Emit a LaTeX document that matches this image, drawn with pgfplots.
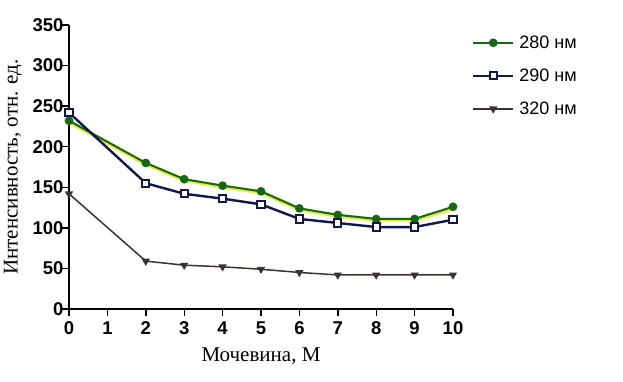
\documentclass[border=0pt]{standalone}
\usepackage{fontspec}
\setmainfont{Liberation Serif}
\setsansfont{Liberation Sans}
\usepackage{pgfplots}
\pgfplotsset{compat=1.18}
\definecolor{cgreen}{RGB}{20,105,20}
\definecolor{cyell}{RGB}{230,235,60}
\definecolor{cnavy}{RGB}{15,25,80}
\definecolor{cgray}{RGB}{60,50,45}
\begin{document}
\begin{tikzpicture}
\useasboundingbox (0,0) rectangle (623pt,381pt);
\begin{axis}[
  at={(69pt,72pt)}, anchor=south west,
  scale only axis, width=384pt, height=284pt,
  xmin=0, xmax=10, ymin=0, ymax=350,
  axis x line*=bottom, axis y line*=left,
  axis line style={-, line width=1.6pt, black},
  xtick={0,1,...,10}, ytick={0,50,...,350},
  tick align=outside, major tick length=7pt,
  tick style={line width=1.4pt, black},
  /pgf/number format/assume math mode=true,
  tick label style={font=\sffamily\bfseries\fontsize{18.5}{18.5}\selectfont},
  xticklabel style={yshift=-2pt},
  yticklabel style={xshift=5pt},
  xlabel={Мочевина, M},
  ylabel={Интенсивность, отн. ед.},
  label style={font=\fontsize{21}{21}\selectfont},
  xlabel style={yshift=-6pt},
  ylabel style={yshift=4pt},
  legend style={at={(1.049,0.97)}, anchor=north west, draw=none, fill=none,
    font=\sffamily\fontsize{18}{18}\selectfont, row sep=15pt,
    inner xsep=0pt, inner ysep=0pt},
  legend image code/.code={\draw[mark repeat=2,mark phase=2,#1] plot coordinates {(0pt,0pt) (20pt,0pt) (40pt,0pt)};},
  legend cell align=left,
  clip=false,
]
\addplot[cyell, line width=4pt, forget plot] coordinates {
(0,231) (2,179) (3,159) (4,151) (5,144) (6,123) (7,115) (8,110) (9,110) (10,124)};
\addplot[cgreen, line width=2pt, mark=*, mark size=3.3pt, mark options={fill=cgreen}] coordinates {
(0,232) (2,180) (3,160) (4,152) (5,145) (6,124) (7,116) (8,111) (9,111) (10,126)};
\addlegendentry{\hspace{3pt}280 нм}
\addplot[cnavy, line width=2.4pt, mark=square*, mark size=3.6pt, mark options={fill=white, line width=2pt}] coordinates {
(0,242) (2,155) (3,142) (4,136) (5,129) (6,111) (7,106) (8,101) (9,101) (10,110)};
\addlegendentry{\hspace{3pt}290 нм}
\addplot[cgray, line width=1.5pt, mark=triangle*, mark size=3.3pt, mark options={rotate=180, fill=cgray}] coordinates {
(0,142) (2,59) (3,54) (4,52) (5,49) (6,45) (7,42) (8,42) (9,42) (10,42)};
\addlegendentry{\hspace{3pt}320 нм}
\end{axis}
\end{tikzpicture}
\end{document}
